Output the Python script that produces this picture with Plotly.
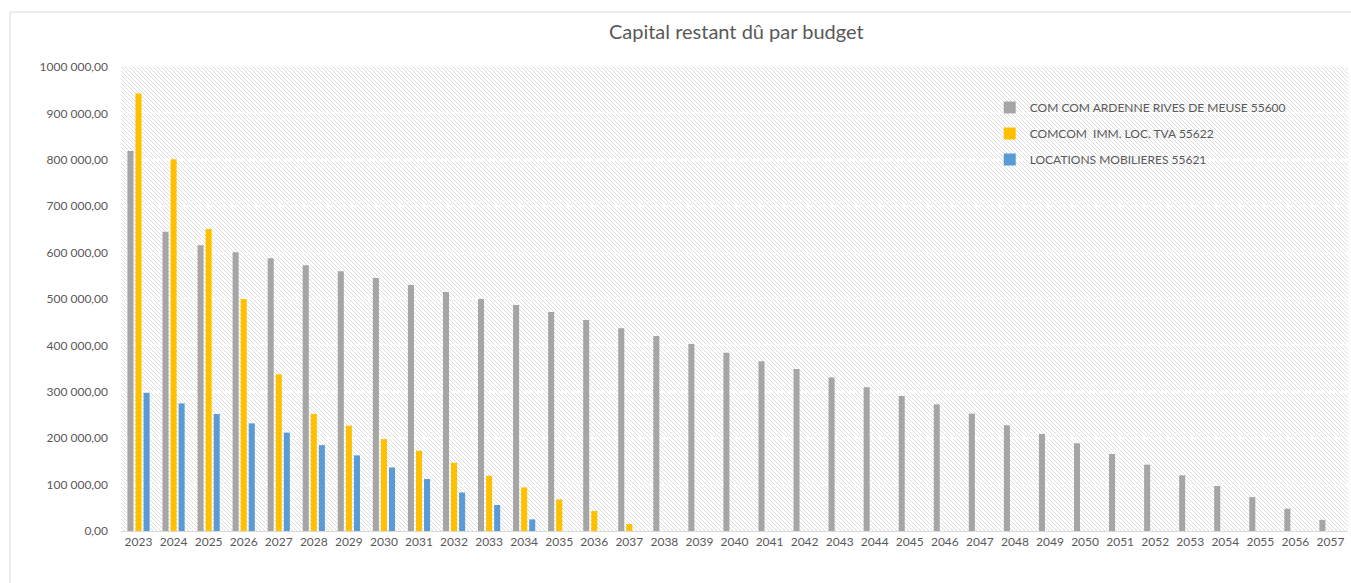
import base64
import plotly.graph_objects as go

years = [str(y) for y in range(2023, 2058)]

ardenne = [819000, 645000, 616000, 601000, 588000, 573000, 560000, 545000, 530000, 515000,
           500000, 487000, 472000, 455000, 437000, 420000, 403000, 384000, 366000, 349000,
           331000, 310000, 291000, 273000, 253000, 228000, 209000, 189000, 166000, 143000,
           120000, 97000, 73000, 48000, 24000]
imm_loc = [943000, 801000, 651000, 500000, 338000, 252000, 227000, 198000, 173000, 147000,
           119000, 94000, 68000, 43000, 15000] + [None] * 20
loc_mob = [298000, 275000, 252000, 232000, 212000, 185000, 163000, 137000, 112000, 83000,
           56000, 25000] + [None] * 23

series_names = ["COM COM ARDENNE RIVES DE MEUSE 55600",
                "COMCOM  IMM. LOC. TVA 55622",
                "LOCATIONS MOBILIERES 55621"]
series_colors = ["#a5a5a5", "#ffc000", "#5b9bd5"]

y_tickvals = [0, 100000, 200000, 300000, 400000, 500000, 600000, 700000, 800000, 900000, 1000000]
y_ticktext = ["0,00", "100 000,00", "200 000,00", "300 000,00", "400 000,00", "500 000,00",
              "600 000,00", "700 000,00", "800 000,00", "900 000,00", "1000 000,00"]

FONT = "Lato, 'Open Sans', sans-serif"
TXT = "#595959"

fig = go.Figure()
for i, (name, vals, col) in enumerate(zip(series_names, [ardenne, imm_loc, loc_mob], series_colors)):
    fig.add_trace(go.Bar(x=years, y=vals, name=name, marker=dict(color=col, line=dict(width=0)),
                         legendgroup=f"g{i}"))

# hatched background pattern (SVG)
W, H = 1227, 464
svg = f'''<svg xmlns="http://www.w3.org/2000/svg" width="{W}" height="{H}" viewBox="0 0 {W} {H}" preserveAspectRatio="none">
<defs><pattern id="p" patternUnits="userSpaceOnUse" width="4" height="4">
<rect width="4" height="4" fill="#ffffff"/>
<path d="M-1,-1 L5,5 M-1,3 L1,5 M3,-1 L5,1" stroke="#dddddd" stroke-width="1"/>
</pattern></defs>
<rect width="{W}" height="{H}" fill="url(#p)"/></svg>'''
uri = "data:image/svg+xml;base64," + base64.b64encode(svg.encode()).decode()

fig.add_layout_image(dict(source=uri, xref="paper", yref="paper", x=0, y=1, sizex=1, sizey=1,
                          xanchor="left", yanchor="top", sizing="stretch", layer="below"))

# chart border (top and left edges)
fig.add_shape(type="line", xref="paper", yref="paper", x0=-0.0905, x1=1.05, y0=1.1185, y1=1.1185,
              line=dict(color="#d9d9d9", width=1))
fig.add_shape(type="line", xref="paper", yref="paper", x0=-0.0905, x1=-0.0905, y0=-0.2, y1=1.1185,
              line=dict(color="#d9d9d9", width=1))

fig.update_layout(
    width=1351, height=583,
    margin=dict(l=121, r=3, t=67, b=52),
    paper_bgcolor="white", plot_bgcolor="white",
    barmode="group", bargap=0.31, bargroupgap=0.25,
    title=dict(text="Capital restant dû par budget", x=0.545, xanchor="center", y=0.945, yanchor="middle",
               font=dict(family=FONT, size=20, color=TXT)),
    font=dict(family=FONT, size=12, color=TXT),
    legend=dict(x=0.708, y=0.944, xanchor="left", yanchor="top", bgcolor="rgba(0,0,0,0)",
                font=dict(family=FONT, size=12, color=TXT), tracegroupgap=7, traceorder="grouped"),
    showlegend=True,
    xaxis=dict(type="category", showgrid=False, showline=True, linecolor="#d9d9d9", linewidth=1,
               ticks="", tickfont=dict(family=FONT, size=12, color=TXT)),
    yaxis=dict(range=[0, 1000000], tickvals=y_tickvals, ticktext=y_ticktext, showgrid=True,
               gridcolor="#ffffff", gridwidth=1.5, griddash="4px,2px", zeroline=False, showline=False,
               ticks="", ticklabelstandoff=12, tickfont=dict(family=FONT, size=12, color=TXT)),
)

fig.write_html("out.html")
